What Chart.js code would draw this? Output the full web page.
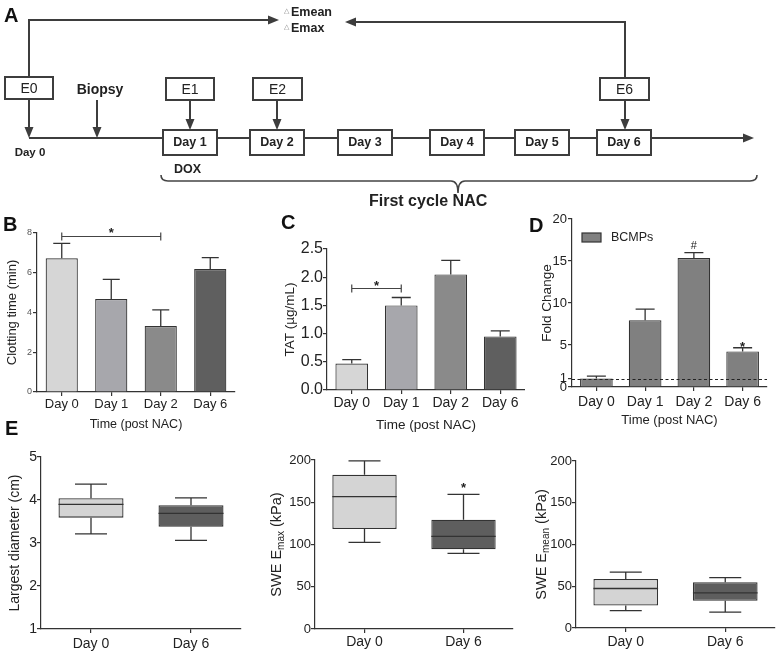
<!DOCTYPE html>
<html><head><meta charset="utf-8">
<script src="https://cdn.jsdelivr.net/npm/chart.js@4.4.1/dist/chart.umd.min.js"></script>
<style>
html,body{margin:0;padding:0;background:#fff;}
#wrap{position:relative;width:779px;height:655px;overflow:hidden;background:#fff;}
canvas{position:absolute;}
.lbl{position:absolute;font:bold 20px 'Liberation Sans',Arial,sans-serif;color:#111;line-height:20px;}
</style></head><body>
<div id="wrap">
<canvas id="cA" width="779" height="215" style="left:0;top:0"></canvas>
<canvas id="cB" width="245" height="240" style="left:0;top:200px"></canvas>
<canvas id="cC" width="265" height="240" style="left:260px;top:200px"></canvas>
<canvas id="cD" width="259" height="240" style="left:520px;top:200px"></canvas>
<canvas id="cE1" width="250" height="215" style="left:0;top:440px"></canvas>
<canvas id="cE2" width="270" height="215" style="left:250px;top:440px"></canvas>
<canvas id="cE3" width="259" height="215" style="left:520px;top:440px"></canvas>
<div class="lbl" style="left:4px;top:5px">A</div>
<div class="lbl" style="left:3px;top:214px">B</div>
<div class="lbl" style="left:281px;top:212px">C</div>
<div class="lbl" style="left:529px;top:215px">D</div>
<div class="lbl" style="left:5px;top:418px">E</div>
</div>
<script>
// ---------------- data ----------------
const timeLabels = ['Day 0', 'Day 1', 'Day 2', 'Day 6'];
const clottingMean = [6.73, 4.68, 3.32, 6.19];
const clottingSEM  = [0.75, 0.99, 0.81, 0.57];
const tatMean = [0.47, 1.50, 2.05, 0.95];
const tatSEM  = [0.07, 0.14, 0.25, 0.10];
const bcmpMean = [1.0, 7.95, 15.35, 4.24];
const bcmpSEM  = [0.3, 1.31, 0.65, 0.43];
const bcmpMarks = ['', '', '#', '*'];
const foldTicks = [0, 1, 5, 10, 15, 20];
const boxLabels = ['Day 0', 'Day 6'];
// [min, Q1, median, Q3, max]
const diameterDay0 = [3.21, 3.59, 3.90, 4.04, 4.37];
const diameterDay6 = [3.06, 3.38, 3.69, 3.88, 4.05];
const emaxDay0 = [102.6, 118.3, 156.6, 182.6, 199];
const emaxDay6 = [89.6, 94.3, 109.7, 129.4, 159.4];
const emeanDay0 = [20.7, 27.0, 47.3, 58.8, 66.8];
const emeanDay6 = [19.1, 32.6, 42.1, 54.9, 60.4];
const diagramDays = ['Day 1', 'Day 2', 'Day 3', 'Day 4', 'Day 5', 'Day 6'];
const diagramE = ['E0', 'E1', 'E2', 'E6'];

// ---------------- style helpers ----------------
const FONT = "'Liberation Sans', Arial, sans-serif";
const AX = '#333';
const barColors = ['#d6d6d6', '#a7a7ac', '#8a8a8a', '#5f5f5f'];
const boxColors = ['#d4d4d4', '#5e5e5e'];

function yAxis(o) {
  const a = {
    type: 'linear', min: o.min, max: o.max,
    afterFit: s => { s.width = o.width; },
    ticks: { stepSize: o.step, font: { family: FONT, size: o.tickSize }, color: o.tickColor || '#222', padding: o.pad },
    grid: { drawOnChartArea: false, drawTicks: true, tickLength: 4, color: AX, lineWidth: 1.2 },
    border: { display: true, color: AX, width: 1.2 },
    title: o.title ? { display: true, text: o.title, font: { family: FONT, size: o.titleSize }, color: '#222', padding: { top: o.titlePad, bottom: 0 } } : { display: false }
  };
  if (o.fmt) a.ticks.callback = o.fmt;
  if (o.list) a.afterBuildTicks = s => { s.ticks = o.list.map(v => ({ value: v })); };
  return a;
}
function xAxis(o) {
  return {
    type: 'category', offset: true,
    afterFit: s => { s.height = o.height; },
    ticks: { font: { family: FONT, size: o.tickSize }, color: '#222', padding: o.pad, maxRotation: 0, autoSkip: false },
    grid: { offset: false, drawOnChartArea: false, drawTicks: true, tickLength: 4, color: AX, lineWidth: 1.2 },
    border: { display: true, color: AX, width: 1.2 },
    title: o.title ? { display: true, text: o.title, font: { family: FONT, size: o.titleSize }, color: '#222', padding: { top: 0, bottom: o.titlePad } } : { display: false }
  };
}
function errorBars(means, errs, cap) {
  return { id: 'errorbars', afterDatasetsDraw(chart) {
    const { ctx, scales: { x, y } } = chart;
    ctx.save(); ctx.strokeStyle = AX; ctx.lineWidth = 1.3;
    means.forEach((m, i) => {
      const px = x.getPixelForValue(i), y0 = y.getPixelForValue(m), y1 = y.getPixelForValue(m + errs[i]);
      ctx.beginPath(); ctx.moveTo(px, y0); ctx.lineTo(px, y1);
      ctx.moveTo(px - cap / 2, y1); ctx.lineTo(px + cap / 2, y1); ctx.stroke();
    });
    ctx.restore();
  }};
}
function bracket(from, to, value, text, starSize, lift) {
  return { id: 'bracket', afterDatasetsDraw(chart) {
    const { ctx, scales: { x, y } } = chart;
    const x1 = x.getPixelForValue(from), x2 = x.getPixelForValue(to), py = Math.round(y.getPixelForValue(value)) + 0.5;
    ctx.save(); ctx.strokeStyle = '#444'; ctx.lineWidth = 1.2;
    ctx.beginPath(); ctx.moveTo(x1, py); ctx.lineTo(x2, py);
    ctx.moveTo(x1, py - 4); ctx.lineTo(x1, py + 4); ctx.moveTo(x2, py - 4); ctx.lineTo(x2, py + 4); ctx.stroke();
    ctx.fillStyle = '#222'; ctx.font = `bold ${starSize}px ${FONT}`; ctx.textAlign = 'center'; ctx.textBaseline = 'alphabetic';
    ctx.fillText(text, (x1 + x2) / 2, py - lift);
    ctx.restore();
  }};
}
function boxWhiskers(stats) {
  return { id: 'whiskers', afterDatasetsDraw(chart) {
    const { ctx, scales: { y } } = chart; const meta = chart.getDatasetMeta(0);
    ctx.save(); ctx.strokeStyle = AX; ctx.lineWidth = 1.3;
    stats.forEach((s, i) => {
      const bar = meta.data[i]; const x = bar.x, hw = bar.width / 2; const py = v => y.getPixelForValue(v);
      ctx.beginPath();
      ctx.moveTo(x, py(s[3])); ctx.lineTo(x, py(s[4]));
      ctx.moveTo(x - 16, py(s[4])); ctx.lineTo(x + 16, py(s[4]));
      ctx.moveTo(x, py(s[1])); ctx.lineTo(x, py(s[0]));
      ctx.moveTo(x - 16, py(s[0])); ctx.lineTo(x + 16, py(s[0]));
      ctx.moveTo(x - hw, py(s[2])); ctx.lineTo(x + hw, py(s[2]));
      ctx.stroke();
    });
    ctx.restore();
  }};
}
function subTitle(main, sub, tail, cx) {
  return { id: 'subtitle', afterDraw(chart) {
    const ctx = chart.ctx, a = chart.chartArea, cy = (a.top + a.bottom) / 2;
    const f1 = `14.5px ${FONT}`, f2 = `10px ${FONT}`;
    ctx.save(); ctx.fillStyle = '#222'; ctx.textBaseline = 'alphabetic'; ctx.textAlign = 'left';
    ctx.font = f1; const w1 = ctx.measureText(main).width, w3 = ctx.measureText(tail).width;
    ctx.font = f2; const w2 = ctx.measureText(sub).width;
    ctx.translate(cx, cy); ctx.rotate(-Math.PI / 2);
    let x0 = -(w1 + w2 + w3) / 2; const base = 5;
    ctx.font = f1; ctx.fillText(main, x0, base); x0 += w1;
    ctx.font = f2; ctx.fillText(sub, x0, base + 3); x0 += w2;
    ctx.font = f1; ctx.fillText(tail, x0, base);
    ctx.restore();
  }};
}
const baseOpts = (padding) => ({
  responsive: false, animation: false, devicePixelRatio: 1,
  layout: { padding },
  plugins: { legend: { display: false }, tooltip: { enabled: false } }
});

// ---------------- Panel A: timeline diagram ----------------
const diagramPlugin = { id: 'diagram', afterDraw(chart) {
  const c = chart.ctx; const col = '#3d3d3d';
  c.save(); c.strokeStyle = col; c.fillStyle = col; c.lineWidth = 2; c.lineCap = 'butt';
  const line = pts => { c.beginPath(); c.moveTo(pts[0][0], pts[0][1]); pts.slice(1).forEach(p => c.lineTo(p[0], p[1])); c.stroke(); };
  const head = (x, y, dir) => {
    const L = 11, W = 4.5; c.beginPath(); c.moveTo(x, y);
    if (dir === 'r') { c.lineTo(x - L, y - W); c.lineTo(x - L, y + W); }
    if (dir === 'l') { c.lineTo(x + L, y - W); c.lineTo(x + L, y + W); }
    if (dir === 'd') { c.lineTo(x - W, y - L); c.lineTo(x + W, y - L); }
    c.closePath(); c.fill();
  };
  // feedback lines to Emean / Emax
  line([[29, 77], [29, 20], [270, 20]]); head(279, 20, 'r');
  line([[625, 78], [625, 22], [354, 22]]); head(345, 22, 'l');
  // main timeline
  line([[29, 138], [744, 138]]); head(754, 138, 'r');
  line([[29, 99], [29, 129]]); head(29, 138, 'd');
  line([[97, 100], [97, 129]]); head(97, 138, 'd');
  // E boxes
  const eBoxes = [[5, 77, 48], [166, 78, 48], [253, 78, 49], [600, 78, 49]];
  c.font = `14px ${FONT}`; c.textAlign = 'center'; c.textBaseline = 'middle';
  eBoxes.forEach((b, i) => {
    c.fillStyle = '#fff'; c.fillRect(b[0], b[1], b[2], 22); c.strokeRect(b[0], b[1], b[2], 22);
    c.fillStyle = '#222'; c.fillText(diagramE[i], b[0] + b[2] / 2, b[1] + 12);
  });
  c.fillStyle = col;
  [190, 277, 625].forEach(x => { line([[x, 100], [x, 121]]); head(x, 130, 'd'); });
  // day boxes
  const dayX = [163, 250, 338, 430, 515, 597];
  c.font = `bold 12.5px ${FONT}`;
  dayX.forEach((x, i) => {
    c.fillStyle = '#fff'; c.fillRect(x, 130, 54, 25); c.strokeRect(x, 130, 54, 25);
    c.fillStyle = '#222'; c.fillText(diagramDays[i], x + 27, 143);
  });
  // texts
  c.fillStyle = '#222';
  c.font = `bold 14px ${FONT}`; c.fillText('Biopsy', 100, 90);
  c.font = `bold 11.5px ${FONT}`; c.fillText('Day 0', 30, 153);
  c.textAlign = 'left';
  c.font = `bold 12.5px ${FONT}`; c.fillText('DOX', 174, 170);
  c.fillText('Emean', 291, 13); c.fillText('Emax', 291, 29);
  c.fillStyle = '#888'; c.font = `7px 'DejaVu Sans', sans-serif`;
  c.fillText('\u25B3', 284, 11); c.fillText('\u25B3', 284, 27);
  c.fillStyle = '#222'; c.font = `bold 16px ${FONT}`; c.fillText('First cycle NAC', 369, 202);
  // brace
  c.lineWidth = 1.6; c.strokeStyle = '#444';
  c.beginPath(); c.moveTo(161, 175); c.quadraticCurveTo(161, 181, 168, 181); c.lineTo(451, 181);
  c.quadraticCurveTo(458, 181, 458, 193); c.quadraticCurveTo(458, 181, 465, 181); c.lineTo(750, 181);
  c.quadraticCurveTo(757, 181, 757, 175); c.stroke();
  c.restore();
}};
new Chart(document.getElementById('cA'), {
  type: 'scatter', data: { datasets: [] },
  options: Object.assign(baseOpts(0), { scales: { x: { display: false }, y: { display: false } } }),
  plugins: [diagramPlugin]
});

// ---------------- Panel B ----------------
new Chart(document.getElementById('cB'), {
  type: 'bar',
  data: { labels: timeLabels, datasets: [{ data: clottingMean, backgroundColor: barColors, borderColor: AX, borderWidth: 1.2, barPercentage: 0.65, categoryPercentage: 1 }] },
  options: Object.assign(baseOpts({ left: 0, top: 33, right: 10, bottom: 0 }), {
    scales: {
      x: xAxis({ height: 48, tickSize: 13, pad: 1, title: 'Time (post NAC)', titleSize: 12.5, titlePad: 7.5 }),
      y: yAxis({ min: 0, max: 8, step: 2, width: 37, tickSize: 9, tickColor: '#555', pad: 1, title: 'Clotting time (min)', titleSize: 13, titlePad: 5 })
    }
  }),
  plugins: [errorBars(clottingMean, clottingSEM, 17), bracket(0, 2, 7.87, '*', 13, 0)]
});

// ---------------- Panel C ----------------
new Chart(document.getElementById('cC'), {
  type: 'bar',
  data: { labels: timeLabels, datasets: [{ data: tatMean, backgroundColor: barColors, borderColor: AX, borderWidth: 1.2, barPercentage: 0.66, categoryPercentage: 1 }] },
  options: Object.assign(baseOpts({ left: 0, top: 49, right: 0, bottom: 0 }), {
    scales: {
      x: xAxis({ height: 50, tickSize: 14, pad: 1, title: 'Time (post NAC)', titleSize: 13.5, titlePad: 7 }),
      y: yAxis({ min: 0, max: 2.5, step: 0.5, width: 67, tickSize: 16, pad: 0, fmt: v => v.toFixed(1), title: 'TAT (\u00B5g/mL)', titleSize: 13.5, titlePad: 22 })
    }
  }),
  plugins: [errorBars(tatMean, tatSEM, 19), bracket(0, 1, 1.81, '*', 13, -1)]
});

// ---------------- Panel D ----------------
const dExtras = { id: 'dextras', afterDatasetsDraw(chart) {
  const { ctx, scales: { x, y }, chartArea: a } = chart;
  ctx.save();
  // reference line at 1
  ctx.strokeStyle = '#222'; ctx.lineWidth = 1; ctx.setLineDash([3, 2.5]);
  const p1 = Math.round(y.getPixelForValue(1)) + 0.5;
  ctx.beginPath(); ctx.moveTo(a.left, p1); ctx.lineTo(a.right, p1); ctx.stroke(); ctx.setLineDash([]);
  // significance marks
  ctx.fillStyle = '#222'; ctx.textAlign = 'center'; ctx.textBaseline = 'alphabetic';
  bcmpMarks.forEach((m, i) => {
    if (!m) return;
    const top = y.getPixelForValue(bcmpMean[i] + bcmpSEM[i]);
    if (m === '#') { ctx.font = `11px ${FONT}`; ctx.fillText(m, x.getPixelForValue(i), top - 4); }
    else { ctx.font = `bold 13px ${FONT}`; ctx.fillText(m, x.getPixelForValue(i), top + 3); }
  });
  // legend
  ctx.fillStyle = '#808080'; ctx.strokeStyle = AX; ctx.lineWidth = 1.2;
  ctx.fillRect(62, 33, 19, 9); ctx.strokeRect(62, 33, 19, 9);
  ctx.fillStyle = '#222'; ctx.textAlign = 'left'; ctx.textBaseline = 'middle'; ctx.font = `12.5px ${FONT}`;
  ctx.fillText('BCMPs', 91, 38);
  ctx.restore();
}};
new Chart(document.getElementById('cD'), {
  type: 'bar',
  data: { labels: timeLabels, datasets: [{ data: bcmpMean, backgroundColor: '#808080', borderColor: AX, borderWidth: 1.2, barPercentage: 0.67, categoryPercentage: 1 }] },
  options: Object.assign(baseOpts({ left: 0, top: 19, right: 12, bottom: 0 }), {
    scales: {
      x: xAxis({ height: 53, tickSize: 14, pad: 3, title: 'Time (post NAC)', titleSize: 13, titlePad: 12 }),
      y: yAxis({ min: 0, max: 20, width: 52, tickSize: 13, pad: 1, list: foldTicks, title: 'Fold Change', titleSize: 13.5, titlePad: 19 })
    }
  }),
  plugins: [errorBars(bcmpMean, bcmpSEM, 19), dExtras]
});

// ---------------- Panel E ----------------
function boxChart(id, stats, padding, yOpts, extraPlugins, xpad) {
  return new Chart(document.getElementById(id), {
    type: 'bar',
    data: { labels: boxLabels, datasets: [{ data: stats.map(s => [s[1], s[3]]), backgroundColor: boxColors, borderColor: AX, borderWidth: 1.3, borderSkipped: false, barPercentage: 0.65, categoryPercentage: 1 }] },
    options: Object.assign(baseOpts(padding), {
      scales: { x: xAxis({ height: padding.xh, tickSize: 14, pad: xpad }), y: yAxis(yOpts) }
    }),
    plugins: [boxWhiskers(stats)].concat(extraPlugins)
  });
}
boxChart('cE1', [diameterDay0, diameterDay6], { left: 0, top: 17, right: 9, bottom: 0, xh: 26 },
  { min: 1, max: 5, step: 1, width: 41, tickSize: 14, pad: 0, title: 'Largest diameter (cm)', titleSize: 14, titlePad: 6.6 }, [], 3);

const emaxStar = { id: 'emaxstar', afterDatasetsDraw(chart) {
  const { ctx, scales: { x, y } } = chart;
  ctx.save(); ctx.fillStyle = '#222'; ctx.font = `bold 13px ${FONT}`; ctx.textAlign = 'center'; ctx.textBaseline = 'alphabetic';
  ctx.fillText('*', x.getPixelForValue(1), y.getPixelForValue(emaxDay6[4]) - 2);
  ctx.restore();
}};
boxChart('cE2', [emaxDay0, emaxDay6], { left: 0, top: 20, right: 7, bottom: 0, xh: 26 },
  { min: 0, max: 200, step: 50, width: 65, tickSize: 13, pad: 0 }, [emaxStar, subTitle('SWE E', 'max', ' (kPa)', 26)], 1);

boxChart('cE3', [emeanDay0, emeanDay6], { left: 0, top: 21, right: 4, bottom: 0, xh: 27 },
  { min: 0, max: 200, step: 50, width: 56, tickSize: 13, pad: 0 }, [subTitle('SWE E', 'mean', ' (kPa)', 21)], 2);
</script>
</body></html>
